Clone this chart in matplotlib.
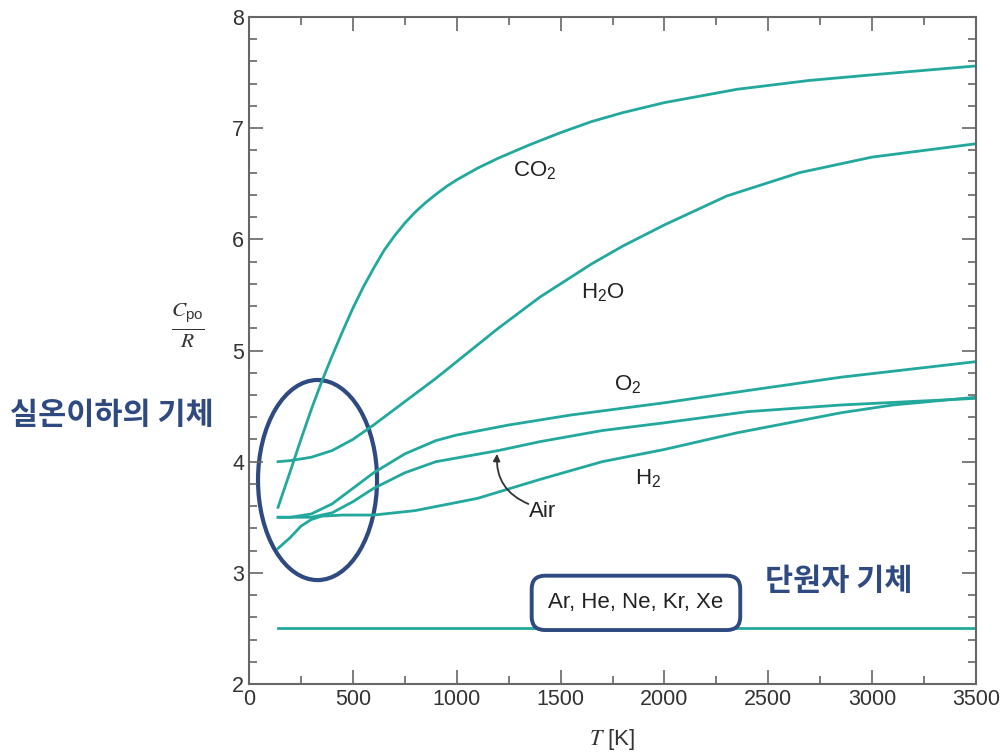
import matplotlib
matplotlib.use('Agg')
import matplotlib.pyplot as plt
from matplotlib.patches import Ellipse
from matplotlib.ticker import MultipleLocator

plt.rcParams['font.family'] = ['Liberation Sans', 'DejaVu Sans']
plt.rcParams['mathtext.fontset'] = 'stix'

# Cp/R
T_co2 = [140, 200, 250, 300, 350, 400, 450, 500, 550, 600, 650, 700, 750, 800, 850, 900, 950, 1000,
         1100, 1200, 1350, 1500, 1650, 1800, 2000, 2350, 2700, 3000, 3500]
cp_co2 = [3.59, 3.92, 4.2, 4.47, 4.72, 4.95, 5.17, 5.38, 5.57, 5.74, 5.9, 6.03, 6.145, 6.245, 6.33, 6.405,
          6.475, 6.535, 6.64, 6.73, 6.85, 6.96, 7.06, 7.14, 7.23, 7.35, 7.43, 7.48, 7.56]

T_h2o = [140, 200, 300, 400, 500, 600, 750, 900, 1000, 1200, 1400, 1650, 1800, 2000, 2300, 2650, 3000, 3500]
cp_h2o = [4.0, 4.01, 4.04, 4.1, 4.2, 4.33, 4.54, 4.75, 4.9, 5.2, 5.48, 5.78, 5.94, 6.13, 6.39, 6.6, 6.74, 6.86]

T_o2 = [140, 200, 300, 400, 500, 600, 750, 900, 1000, 1250, 1550, 2000, 2400, 2850, 3500]
cp_o2 = [3.5, 3.5, 3.53, 3.62, 3.76, 3.9, 4.07, 4.19, 4.24, 4.33, 4.42, 4.53, 4.64, 4.76, 4.9]

T_air = [140, 200, 300, 400, 500, 600, 750, 900, 1200, 1400, 1700, 2000, 2400, 2850, 3500]
cp_air = [3.5, 3.5, 3.5, 3.54, 3.64, 3.76, 3.9, 4.0, 4.1, 4.18, 4.28, 4.35, 4.45, 4.51, 4.57]

T_h2 = [140, 200, 250, 300, 350, 450, 600, 800, 1100, 1400, 1700, 2000, 2350, 2850, 3100, 3500]
cp_h2 = [3.22, 3.32, 3.42, 3.48, 3.51, 3.52, 3.52, 3.56, 3.67, 3.84, 4.0, 4.11, 4.26, 4.44, 4.51, 4.58]

T_mono = [140, 3500]
cp_mono = [2.5, 2.5]

teal = '#22a89c'
navy = '#2e4a80'

fig = plt.figure(figsize=(10.06, 7.53), dpi=100)
ax = fig.add_axes([0.2475, 0.0916, 0.7227, 0.8858])

for T, cp in [(T_co2, cp_co2), (T_h2o, cp_h2o), (T_o2, cp_o2),
              (T_air, cp_air), (T_h2, cp_h2), (T_mono, cp_mono)]:
    ax.plot(T, cp, color=teal, lw=2.0, solid_joinstyle='round')

ax.set_xlim(0, 3500)
ax.set_ylim(2, 8)
ax.xaxis.set_major_locator(MultipleLocator(500))
ax.xaxis.set_minor_locator(MultipleLocator(250))
ax.yaxis.set_major_locator(MultipleLocator(1))
ax.yaxis.set_minor_locator(MultipleLocator(0.2))
ax.tick_params(which='both', direction='in', top=True, right=True,
               color='#666666', width=1.2, labelsize=15.5, labelcolor='#333333')
ax.tick_params(which='major', length=10)
ax.tick_params(which='minor', length=6)
for s in ax.spines.values():
    s.set_color('#666666')
    s.set_linewidth(1.5)

ax.set_xlabel(r'$T$ [K]', fontsize=16, color='#333333', labelpad=12)
ax.text(-0.084, 0.538, r'$\frac{C_{\mathregular{po}}}{R}$', transform=ax.transAxes,
        fontsize=22, ha='center', va='center', color='#333333')

lab = dict(fontsize=16, color='#222222', ha='center', va='center')
ax.text(1377, 6.62, r'CO$\mathregular{_2}$', **lab)
ax.text(1704, 5.52, r'H$\mathregular{_2}$O', **lab)
ax.text(1825, 4.69, r'O$\mathregular{_2}$', **lab)
ax.text(1921, 3.85, r'H$\mathregular{_2}$', **lab)
ax.text(1415, 3.55, 'Air', **lab)
ax.annotate('', xy=(1194, 4.07), xytext=(1345, 3.62),
            arrowprops=dict(arrowstyle='-|>', connectionstyle='arc3,rad=-0.35',
                            color='#333333', lw=1.3, shrinkA=0, shrinkB=0))

ax.add_patch(Ellipse((330, 3.835), 573, 1.80, fill=False, ec=navy, lw=3, clip_on=False))

ax.text(1863, 2.73, 'Ar, He, Ne, Kr, Xe', fontsize=16, color='#222222',
        ha='center', va='center',
        bbox=dict(boxstyle='round,pad=0.75,rounding_size=0.6', fc='white', ec=navy, lw=2.8))

kr = ['Noto Sans CJK KR', 'DejaVu Sans']
fig.text(0.01, 0.449, '실온이하의 기체', family=kr, fontsize=22, fontweight='bold',
         color=navy, ha='left', va='center')
fig.text(0.76, 0.229, '단원자 기체', family=kr, fontsize=22, fontweight='bold',
         color=navy, ha='left', va='center')

fig.savefig('out.png', dpi=100)
